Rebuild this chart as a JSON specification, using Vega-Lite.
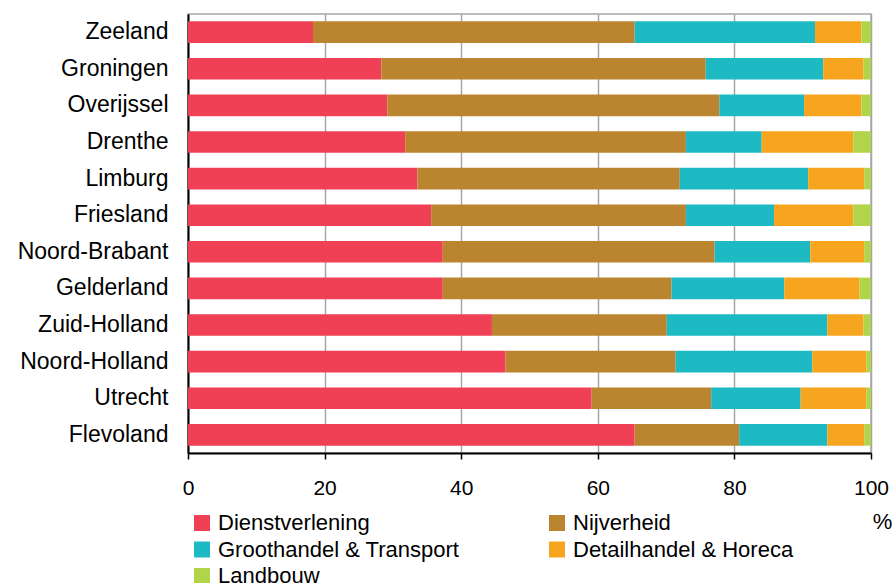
{
  "$schema": "https://vega.github.io/schema/vega-lite/v6.json",
  "autosize": {"type": "none"},
  "padding": {"left": 188, "top": 14, "right": 22, "bottom": 130},
  "width": 683,
  "height": 439,
  "config": {
    "font": "Liberation Sans",
    "view": {"stroke": "#a6a6a6", "strokeWidth": 1.5},
    "background": "white"
  },
  "datasets": {
    "rows": [
      {"province": "Zeeland", "Dienstverlening": 18.3, "Nijverheid": 47.1, "Groothandel & Transport": 26.4, "Detailhandel & Horeca": 6.8, "Landbouw": 1.4},
      {"province": "Groningen", "Dienstverlening": 28.3, "Nijverheid": 47.5, "Groothandel & Transport": 17.2, "Detailhandel & Horeca": 5.9, "Landbouw": 1.1},
      {"province": "Overijssel", "Dienstverlening": 29.2, "Nijverheid": 48.6, "Groothandel & Transport": 12.4, "Detailhandel & Horeca": 8.4, "Landbouw": 1.4},
      {"province": "Drenthe", "Dienstverlening": 31.8, "Nijverheid": 41.1, "Groothandel & Transport": 11.1, "Detailhandel & Horeca": 13.4, "Landbouw": 2.6},
      {"province": "Limburg", "Dienstverlening": 33.6, "Nijverheid": 38.4, "Groothandel & Transport": 18.8, "Detailhandel & Horeca": 8.2, "Landbouw": 1.0},
      {"province": "Friesland", "Dienstverlening": 35.6, "Nijverheid": 37.3, "Groothandel & Transport": 12.9, "Detailhandel & Horeca": 11.6, "Landbouw": 2.6},
      {"province": "Noord-Brabant", "Dienstverlening": 37.3, "Nijverheid": 39.8, "Groothandel & Transport": 14.0, "Detailhandel & Horeca": 7.9, "Landbouw": 1.0},
      {"province": "Gelderland", "Dienstverlening": 37.3, "Nijverheid": 33.5, "Groothandel & Transport": 16.5, "Detailhandel & Horeca": 11.0, "Landbouw": 1.7},
      {"province": "Zuid-Holland", "Dienstverlening": 44.5, "Nijverheid": 25.6, "Groothandel & Transport": 23.5, "Detailhandel & Horeca": 5.3, "Landbouw": 1.1},
      {"province": "Noord-Holland", "Dienstverlening": 46.5, "Nijverheid": 24.9, "Groothandel & Transport": 20.0, "Detailhandel & Horeca": 7.9, "Landbouw": 0.7},
      {"province": "Utrecht", "Dienstverlening": 59.1, "Nijverheid": 17.5, "Groothandel & Transport": 13.1, "Detailhandel & Horeca": 9.6, "Landbouw": 0.7},
      {"province": "Flevoland", "Dienstverlening": 65.4, "Nijverheid": 15.3, "Groothandel & Transport": 12.9, "Detailhandel & Horeca": 5.4, "Landbouw": 1.0}
    ]
  },
  "data": {"name": "rows"},
  "transform": [
    {"fold": ["Dienstverlening", "Nijverheid", "Groothandel & Transport", "Detailhandel & Horeca", "Landbouw"], "as": ["sector", "value"]},
    {"window": [{"op": "row_number", "as": "rank"}], "groupby": ["province"]}
  ],
  "mark": {"type": "bar"},
  "encoding": {
    "y": {
      "field": "province",
      "type": "nominal",
      "sort": ["Zeeland", "Groningen", "Overijssel", "Drenthe", "Limburg", "Friesland", "Noord-Brabant", "Gelderland", "Zuid-Holland", "Noord-Holland", "Utrecht", "Flevoland"],
      "scale": {"paddingInner": 0.41, "paddingOuter": 0.2},
      "axis": {
        "title": null,
        "ticks": false,
        "labelPadding": 20,
        "labelFontSize": 23,
        "labelColor": "#000000",
        "domainColor": "#000000",
        "domainWidth": 2,
        "grid": false
      }
    },
    "x": {
      "field": "value",
      "type": "quantitative",
      "stack": "zero",
      "scale": {"domain": [0, 100], "nice": false},
      "axis": {
        "values": [0, 20, 40, 60, 80, 100],
        "title": "%",
        "titleFontSize": 22,
        "titleFontWeight": "normal",
        "titleColor": "#000000",
        "titleAnchor": "start",
        "titleAlign": "center",
        "titleBaseline": "middle",
        "titleX": 694,
        "titleY": 68,
        "labelFontSize": 21,
        "labelColor": "#000000",
        "labelPadding": 18,
        "tickSize": 6,
        "tickColor": "#000000",
        "tickWidth": 1.5,
        "domainColor": "#000000",
        "domainWidth": 2,
        "grid": true,
        "gridColor": "#a6a6a6",
        "gridWidth": 1.5,
        "labelFlush": false
      }
    },
    "color": {
      "field": "sector",
      "type": "nominal",
      "scale": {
        "domain": ["Dienstverlening", "Nijverheid", "Groothandel & Transport", "Detailhandel & Horeca", "Landbouw"],
        "range": ["#EF4056", "#BA852E", "#1DBAC4", "#F7A51E", "#B1D44B"]
      },
      "legend": {
        "title": null,
        "orient": "none",
        "legendX": 3,
        "legendY": 498,
        "columns": 2,
        "columnPadding": 86,
        "rowPadding": 4.5,
        "values": ["Dienstverlening", "Groothandel & Transport", "Landbouw", "Nijverheid", "Detailhandel & Horeca"],
        "symbolType": "square",
        "symbolSize": 256,
        "symbolStrokeWidth": 0,
        "symbolOffset": 0,
        "labelFontSize": 22,
        "labelColor": "#000000",
        "labelOffset": 5,
        "labelLimit": 400
      }
    },
    "order": {"field": "rank", "type": "quantitative"}
  }
}
